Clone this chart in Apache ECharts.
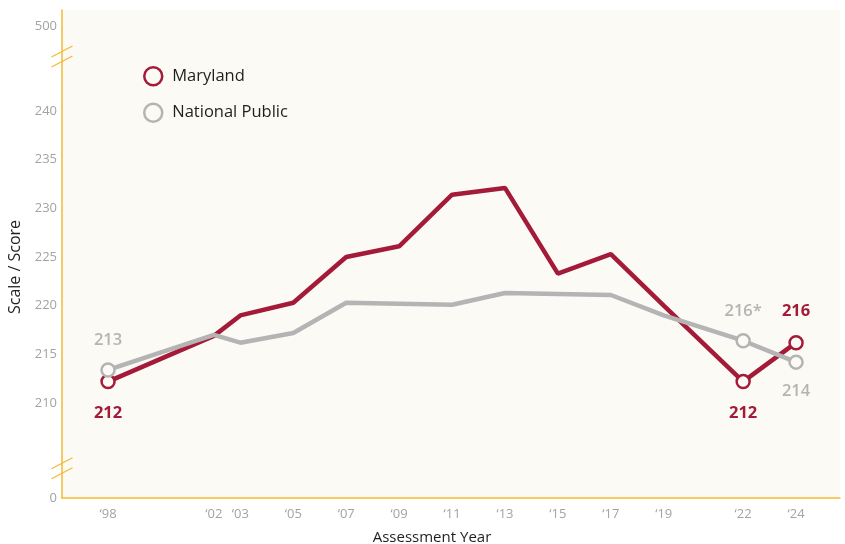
<!DOCTYPE html>
<html><head><meta charset="utf-8">
<script src="https://cdn.jsdelivr.net/npm/echarts@6/dist/echarts.min.js"></script>
<style>html,body{margin:0;padding:0;background:#fff}#c{width:845px;height:544px}</style>
</head><body><div id="c"></div>
<script>
// ---- data ----
const years = [1998, 2002, 2003, 2005, 2007, 2009, 2011, 2013, 2015, 2017, 2019, 2022, 2024];
const maryland = [212.2, 216.9, 219.0, 220.3, 225.0, 226.1, 231.4, 232.1, 223.3, 225.3, 220.0, 212.2, 216.2];
const nationalPublic = [213.4, 217.0, 216.2, 217.2, 220.3, 220.2, 220.1, 221.3, 221.2, 221.1, 219.0, 216.4, 214.2];
const seriesNames = ['Maryland', 'National Public'];
const yTickValues = [0, 210, 215, 220, 225, 230, 235, 240, 500];
const xTickYears = years;
// labelled points: year -> [label suffix, position]
const mdLabelled = { 1998: ['', 'bottom'], 2022: ['', 'bottom'], 2024: ['', 'top'] };
const npLabelled = { 1998: ['', 'top'], 2022: ['*', 'top'], 2024: ['', 'bottom'] };

// ---- broken scale mapping (0..205 and 245..500 compressed) ----
const D0 = 200.24, D500 = 248.74, YMAX = 250.38;
function toDisplay(v) {
  if (v <= 205) return D0 + (v / 205) * (205 - D0);
  if (v >= 245) return 245 + (v - 245) / (500 - 245) * (D500 - 245);
  return v;
}
const breakCenters = [203.3, 245.6]; // display coords of the axis break marks

const RED = '#a31b38', GRAY = '#b4b4b4', AXIS = '#f5b935', BG = '#fcfaf5';
const FONT = 'Open Sans';

function buildData(vals, labelled, color, dist, weight) {
  return years.map((y, i) => {
    const l = labelled[y];
    const item = { value: [y, toDisplay(vals[i])] };
    if (l) {
      item.symbol = 'circle';
      item.label = {
        show: true, position: l[1], distance: dist,
        formatter: Math.round(vals[i]) + l[0],
        color: color, fontSize: 16.5, fontWeight: weight, fontFamily: FONT
      };
    } else {
      item.symbol = 'none';
    }
    return item;
  });
}

const labelMap = {};
yTickValues.forEach(v => { labelMap[toDisplay(v).toFixed(3)] = String(v); });

const chart = echarts.init(document.getElementById('c'), null, { renderer: 'canvas' });
chart.setOption({
  animation: false,
  backgroundColor: '#fff',
  grid: { left: 62, right: 5, top: 10, bottom: 46, outerBoundsMode: 'none', containLabel: false,
          show: true, backgroundColor: BG, borderWidth: 0 },
  legend: {
    orient: 'vertical', left: 143, top: 66, padding: 0, icon: 'circle',
    itemWidth: 24, itemHeight: 18, itemGap: 16,
    textStyle: { fontSize: 16.5, color: '#1f1f1f', fontFamily: FONT, padding: [0, 0, 0, 2] },
    data: [
      { name: seriesNames[0], itemStyle: { color: BG, borderColor: RED, borderWidth: 2.5 } },
      { name: seriesNames[1], itemStyle: { color: BG, borderColor: GRAY, borderWidth: 2.5 } }
    ]
  },
  xAxis: {
    type: 'value', min: 1996.26, max: 2025.66,
    axisLine: { show: true, lineStyle: { color: AXIS, width: 1.5 } },
    axisTick: { show: false }, splitLine: { show: false },
    axisLabel: {
      customValues: xTickYears, color: '#a3a3a3', fontSize: 13, fontFamily: FONT, margin: 10,
      formatter: v => '\u2018' + String(v).slice(2)
    },
    name: 'Assessment Year', nameLocation: 'middle', nameGap: 32,
    nameTextStyle: { color: '#1f1f1f', fontSize: 15, fontFamily: FONT, padding: [0, 38, 0, 0] }
  },
  yAxis: {
    type: 'value', min: D0, max: YMAX,
    axisLine: { show: true, lineStyle: { color: AXIS, width: 1.5 } },
    axisTick: { show: false }, splitLine: { show: false },
    axisLabel: {
      customValues: yTickValues.map(toDisplay), color: '#a3a3a3', fontSize: 13, fontFamily: FONT, margin: 5,
      formatter: v => labelMap[v.toFixed(3)] || ''
    },
    name: 'Scale / Score', nameLocation: 'middle', nameGap: 32, nameRotate: 90,
    nameTextStyle: { color: '#1f1f1f', fontSize: 16, fontFamily: FONT, padding: [0, 26, 0, 0] }
  },
  series: [
    {
      name: seriesNames[0], type: 'line', z: 3,
      symbolSize: 13, showAllSymbol: true,
      lineStyle: { color: RED, width: 4.5 },
      itemStyle: { color: BG, borderColor: RED, borderWidth: 2.5 },
      emphasis: { disabled: true },
      data: buildData(maryland, mdLabelled, RED, 15, 'bold')
    },
    {
      name: seriesNames[1], type: 'line', z: 4,
      symbolSize: 13, showAllSymbol: true,
      lineStyle: { color: GRAY, width: 4.5 },
      itemStyle: { color: BG, borderColor: GRAY, borderWidth: 2.5 },
      emphasis: { disabled: true },
      data: buildData(nationalPublic, npLabelled, GRAY, 13, 600)
    }
  ]
});

// axis break marks
const ax = chart.convertToPixel({ xAxisIndex: 0 }, 1996.26);
const g = [];
breakCenters.forEach(c => {
  const cy = chart.convertToPixel({ yAxisIndex: 0 }, c);
  [-5, 5].forEach(dy => {
    g.push({ type: 'line', shape: { x1: ax - 10.5, y1: cy + dy + 5.5, x2: ax + 10.5, y2: cy + dy - 5.5 },
      style: { stroke: AXIS, lineWidth: 1.3 }, z: 10 });
  });
});
chart.setOption({ graphic: g });
</script></body></html>
